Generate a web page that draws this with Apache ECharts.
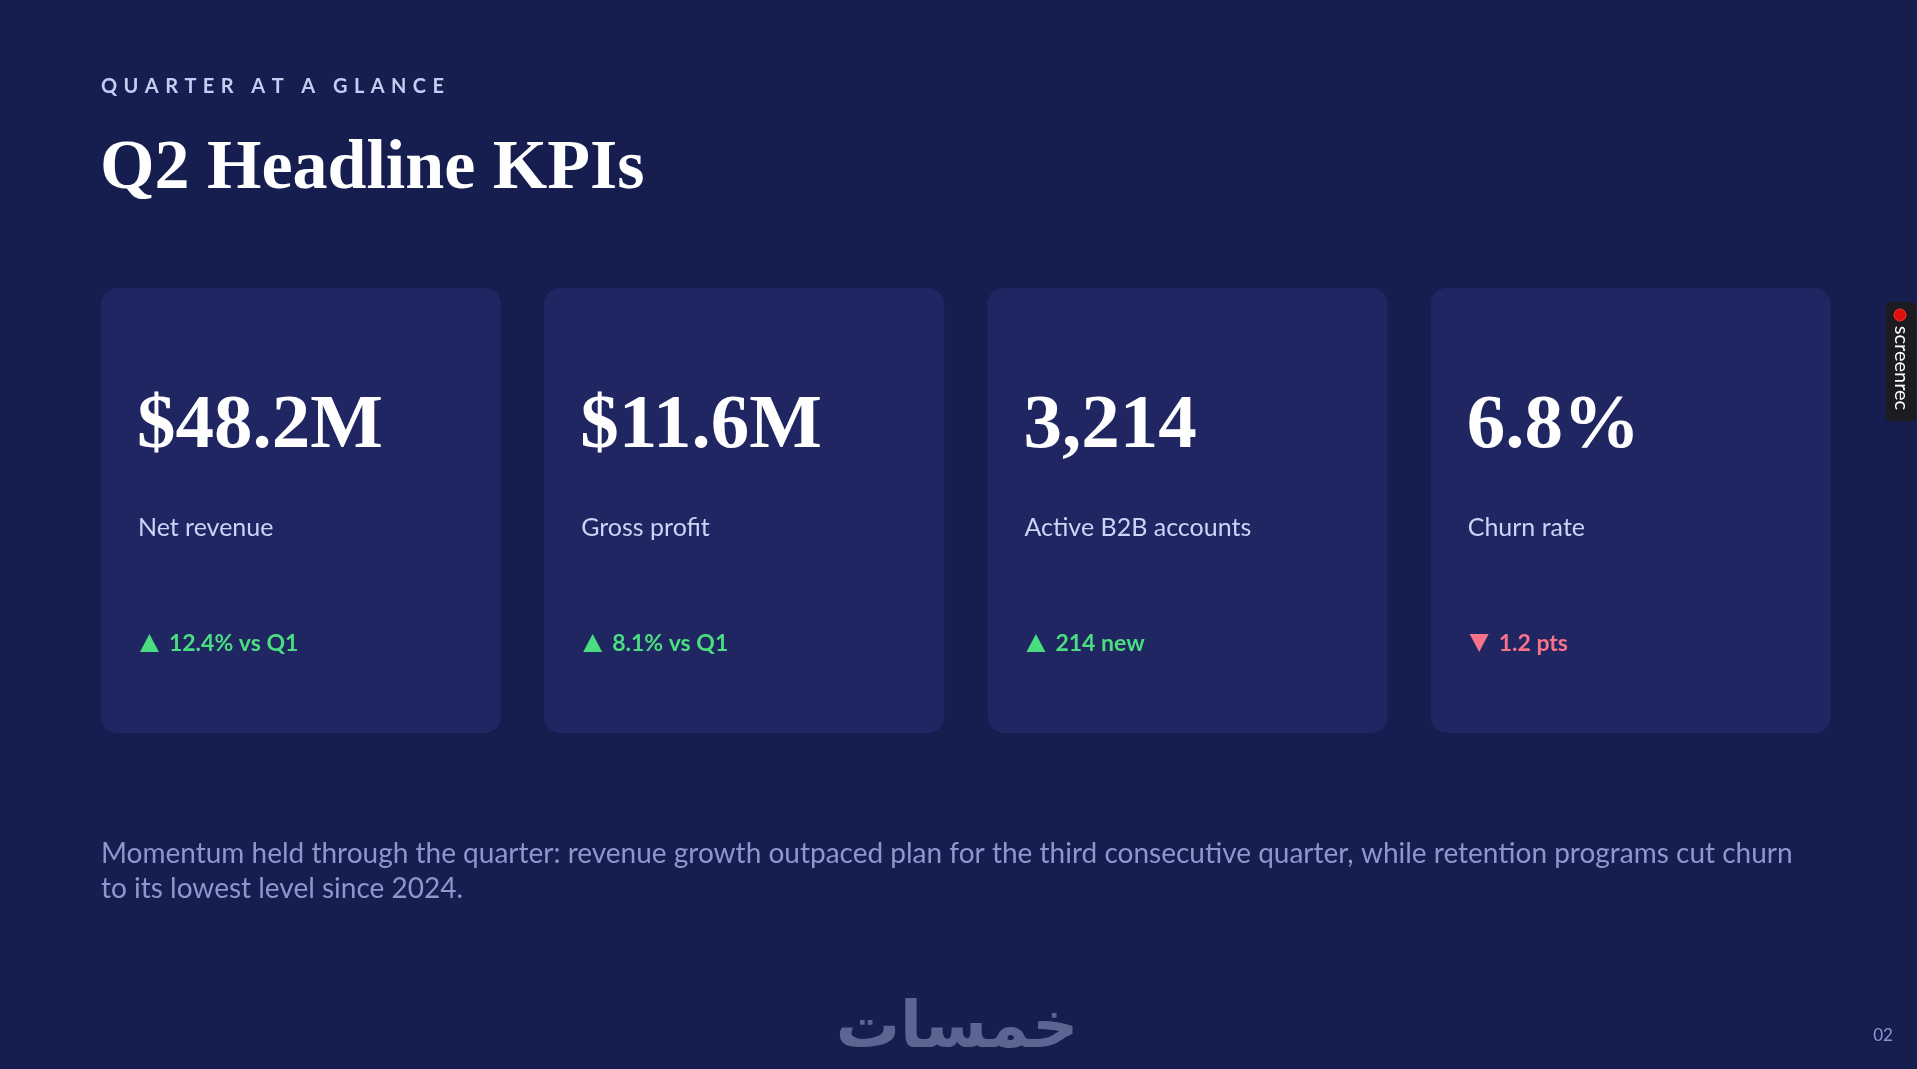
<!DOCTYPE html>
<html><head><meta charset="utf-8">
<script src="https://cdn.jsdelivr.net/npm/echarts@6/dist/echarts.min.js"></script>
<style>html,body{margin:0;padding:0;background:#161d4f;overflow:hidden}#main{width:1917px;height:1069px}</style>
</head><body><div id="main"></div>
<script>
const kpiValues = ['$48.2M', '$11.6M', '3,214', '6.8%'];
const kpiLabels = ['Net revenue', 'Gross profit', 'Active B2B accounts', 'Churn rate'];
const deltaTexts = ['12.4% vs Q1', '8.1% vs Q1', '214 new', '1.2 pts'];
const deltaDirections = ['up', 'up', 'up', 'down'];
const eyebrowText = 'QUARTER AT A GLANCE';
const titleText = 'Q2 Headline KPIs';
const footnoteLines = [
  'Momentum held through the quarter: revenue growth outpaced plan for the third consecutive quarter, while retention programs cut churn',
  'to its lowest level since 2024.'
];
const logoText = 'خمسات';
const pageNumber = '02';

const BG = '#161d4f', CARD = '#1f2662', UP = '#4ade80', DOWN = '#f8728a';
const SANS = 'Lato', SERIF = 'Liberation Serif';

const chart = echarts.init(document.getElementById('main'), null, {renderer: 'canvas', width: 1917, height: 1069});

// eyebrow with letter spacing: place each char
const cv = document.createElement('canvas').getContext('2d');
const eyeFont = 'bold 20px ' + SANS;
cv.font = eyeFont;
const eyeTargetWidth = 343;
const chars = eyebrowText.split('');
const widths = chars.map(c => cv.measureText(c).width);
const raw = widths.reduce((a, b) => a + b, 0);
const ls = (eyeTargetWidth - raw) / (chars.length - 1);
const eyeEls = [];
let ex = 101;
chars.forEach((c, i) => {
  if (c !== ' ') eyeEls.push({type: 'text', style: {x: ex, y: 87, text: c, font: eyeFont, fill: '#c3cdf2', verticalAlign: 'middle', align: 'left'}});
  ex += widths[i] + ls;
});

const cardW = 400, cardTop = 288, cardH = 445;

chart.setOption({
  backgroundColor: BG,
  animation: false,
  grid: {left: 79.3, right: 64.7, top: 0, bottom: 0},
  xAxis: {type: 'category', data: kpiLabels, show: false},
  yAxis: {type: 'value', min: 0, max: 1, show: false},
  series: [{
    type: 'custom',
    data: kpiValues.map((v, i) => [i, 0]),
    renderItem: function (params, api) {
      const i = api.value(0);
      const cx = api.coord([i, 0])[0];
      const left = cx - cardW / 2;
      const up = deltaDirections[i] === 'up';
      const col = up ? UP : DOWN;
      const tx = left + 39, ty = 634, tb = 652;
      const tri = up ? [[tx, tb], [tx + 9.5, ty], [tx + 19, tb]] : [[tx, ty], [tx + 19, ty], [tx + 9.5, tb]];
      return {
        type: 'group',
        children: [
          {type: 'rect', shape: {x: left, y: cardTop, width: cardW, height: cardH, r: 16}, style: {fill: CARD}},
          {type: 'text', style: {x: left + 36, y: 427, text: kpiValues[i], font: 'bold 77px ' + SERIF, fill: '#ffffff', verticalAlign: 'middle'}},
          {type: 'text', style: {x: left + 37, y: 527.5, text: kpiLabels[i], font: '25px ' + SANS, fill: '#cbd4f6', verticalAlign: 'middle'}},
          {type: 'polygon', shape: {points: tri}, style: {fill: col}},
          {type: 'text', style: {x: left + 68, y: 644, text: deltaTexts[i], font: 'bold 23px ' + SANS, fill: col, verticalAlign: 'middle'}}
        ]
      };
    }
  }],
  graphic: [
    ...eyeEls,
    {type: 'text', style: {x: 100, y: 170, text: titleText, font: 'bold 70px ' + SERIF, fill: '#ffffff', verticalAlign: 'middle'}},
    {type: 'text', style: {x: 101, y: 854, text: footnoteLines[0], font: '28px ' + SANS, fill: '#8d97cc', verticalAlign: 'middle'}},
    {type: 'text', style: {x: 101, y: 889, text: footnoteLines[1], font: '28px ' + SANS, fill: '#8d97cc', verticalAlign: 'middle'}},
    {type: 'text', style: {x: 957, y: 1030, text: logoText, font: 'bold 64px "DejaVu Sans"', fill: '#5b6592', align: 'center', verticalAlign: 'middle'}},
    {type: 'text', style: {x: 1883, y: 1036, text: pageNumber, font: '17px ' + SANS, fill: '#8d97cc', align: 'center', verticalAlign: 'middle'}},
    {type: 'group', children: [
      {type: 'rect', shape: {x: 1886, y: 302, width: 30, height: 119, r: 4}, style: {fill: '#1c1c20'}},
      {type: 'circle', shape: {cx: 1900, cy: 315, r: 6}, style: {fill: '#e0100f', stroke: '#ff3030', lineWidth: 1}},
      {type: 'text', x: 1901, y: 368, rotation: -Math.PI / 2, style: {x: 0, y: 0, text: 'screenrec', font: '20px ' + SANS, fill: '#ffffff', align: 'center', verticalAlign: 'middle'}}
    ]}
  ]
});
</script></body></html>
